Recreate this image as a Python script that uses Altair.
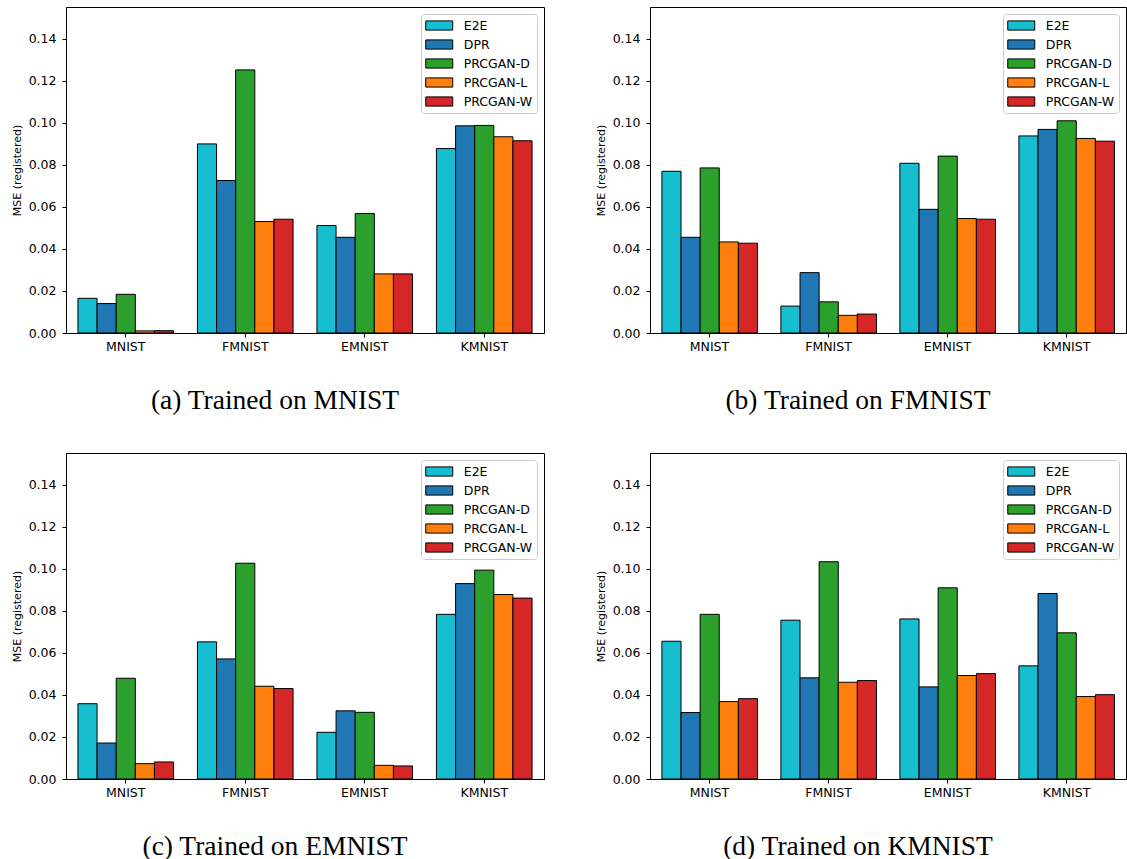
import altair as alt
import pandas as pd

categories = ["MNIST", "FMNIST", "EMNIST", "KMNIST"]
methods = ["E2E", "DPR", "PRCGAN-D", "PRCGAN-L", "PRCGAN-W"]
colors = ["#17becf", "#1f77b4", "#2ca02c", "#ff7f0e", "#d62728"]

# values per method, in order of categories
a_vals = {
    "E2E":      [0.0165, 0.0899, 0.0511, 0.0877],
    "DPR":      [0.0140, 0.0725, 0.0455, 0.0985],
    "PRCGAN-D": [0.0184, 0.1251, 0.0568, 0.0987],
    "PRCGAN-L": [0.0010, 0.0530, 0.0281, 0.0933],
    "PRCGAN-W": [0.0011, 0.0541, 0.0281, 0.0914],
}
b_vals = {
    "E2E":      [0.0769, 0.0128, 0.0807, 0.0937],
    "DPR":      [0.0455, 0.0287, 0.0588, 0.0968],
    "PRCGAN-D": [0.0785, 0.0148, 0.0841, 0.1009],
    "PRCGAN-L": [0.0433, 0.0084, 0.0544, 0.0925],
    "PRCGAN-W": [0.0427, 0.0090, 0.0541, 0.0912],
}
c_vals = {
    "E2E":      [0.0358, 0.0652, 0.0222, 0.0783],
    "DPR":      [0.0171, 0.0571, 0.0324, 0.0929],
    "PRCGAN-D": [0.0479, 0.1026, 0.0317, 0.0993],
    "PRCGAN-L": [0.0073, 0.0441, 0.0065, 0.0877],
    "PRCGAN-W": [0.0081, 0.0430, 0.0062, 0.0860],
}
d_vals = {
    "E2E":      [0.0655, 0.0755, 0.0761, 0.0538],
    "DPR":      [0.0316, 0.0481, 0.0438, 0.0882],
    "PRCGAN-D": [0.0783, 0.1033, 0.0909, 0.0695],
    "PRCGAN-L": [0.0368, 0.0460, 0.0492, 0.0392],
    "PRCGAN-W": [0.0382, 0.0468, 0.0501, 0.0401],
}
captions = ["(a) Trained on MNIST", "(b) Trained on FMNIST",
            "(c) Trained on EMNIST", "(d) Trained on KMNIST"]
y_ticks = [0.0, 0.02, 0.04, 0.06, 0.08, 0.10, 0.12, 0.14]


def to_df(vals):
    rows = []
    for m in methods:
        for c, v in zip(categories, vals[m]):
            rows.append({"dataset": c, "method": m, "mse": v})
    return pd.DataFrame(rows)


def panel(vals, caption, width):
    df = to_df(vals)
    return alt.Chart(df).mark_bar(stroke="black", strokeWidth=1).encode(
        x=alt.X("dataset:N", sort=categories, title=None,
                scale=alt.Scale(paddingInner=0.2, paddingOuter=0.1),
                axis=alt.Axis(labelAngle=0, tickSize=4, labelPadding=3)),
        xOffset=alt.XOffset("method:N", sort=methods),
        y=alt.Y("mse:Q", title="MSE (registered)",
                scale=alt.Scale(domain=[0, 0.155], nice=False, zero=True),
                axis=alt.Axis(values=y_ticks, format=".2f", tickSize=4,
                              labelPadding=6, titlePadding=6)),
        color=alt.Color("method:N", sort=methods,
                        scale=alt.Scale(domain=methods, range=colors),
                        legend=alt.Legend(
                            title=None, orient="top-right", offset=7,
                            symbolType="M-2,-0.68H2V0.68H-2Z",
                            symbolSize=182, symbolOffset=6.75,
                            symbolStrokeColor="black", symbolStrokeWidth=1,
                            symbolOpacity=1, labelOffset=17,
                            labelFont="DejaVu Sans", labelFontSize=12.5,
                            labelColor="black", rowPadding=4,
                            padding=4, fillColor="white",
                            strokeColor="#cccccc", cornerRadius=3)),
    ).properties(
        width=width, height=326,
        title=alt.TitleParams(text=caption, orient="bottom", anchor="middle",
                              font="Liberation Serif", fontSize=27.5,
                              fontWeight="normal", color="black",
                              offset=34, dx=-30),
    )


top = alt.hconcat(panel(a_vals, captions[0], 478), panel(b_vals, captions[1], 476),
                  spacing=49).resolve_legend(color="independent")
bottom = alt.hconcat(panel(c_vals, captions[2], 478), panel(d_vals, captions[3], 476),
                     spacing=49).resolve_legend(color="independent")

chart = alt.vconcat(top, bottom, spacing=37).resolve_legend(color="independent").properties(
    padding={"left": 10, "top": 6, "right": 0, "bottom": 0}
).configure(background="white").configure_view(
    stroke="black", strokeWidth=1
).configure_axis(
    labelFont="DejaVu Sans", labelFontSize=12.5, labelColor="black",
    titleFont="DejaVu Sans", titleFontSize=11, titleFontWeight="normal",
    titleColor="black", domainColor="black", tickColor="black", grid=False,
)

chart.save("out.html", embed_options={"renderer": "svg", "actions": False})
